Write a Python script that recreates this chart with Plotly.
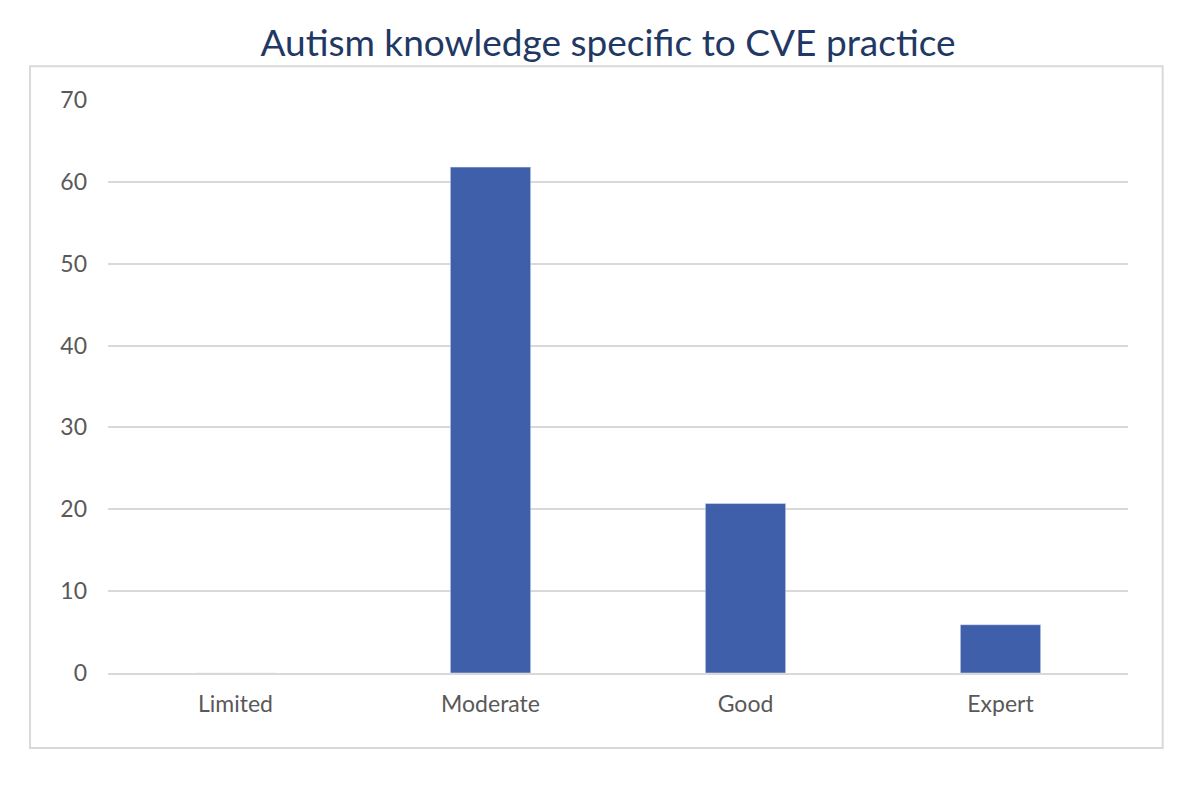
import plotly.graph_objects as go

categories = ['Limited', 'Moderate', 'Good', 'Expert']
values = [0, 61.8, 20.7, 5.9]

fig = go.Figure()
fig.add_trace(go.Bar(x=categories, y=values, marker_color='#3f5fab'))

fig.update_layout(
    width=1200, height=811,
    paper_bgcolor='white', plot_bgcolor='white',
    margin=dict(l=100, r=80, t=92, b=146),
    bargap=0.685,
    showlegend=False,
    title=dict(text='Autism knowledge specific to CVE practice', x=0.5, xanchor='center',
               y=0.957, yanchor='middle',
               font=dict(family='Lato', size=37, color='#1f3864')),
    font=dict(family='Lato', size=23, color='#595959'),
)
fig.update_yaxes(range=[0, 70], dtick=10, showgrid=True, gridcolor='#d9d9d9', gridwidth=1.5,
                 zeroline=False, showline=False, ticklabelstandoff=20)
fig.update_xaxes(showline=True, linecolor='#d9d9d9', linewidth=1.5, ticklabelstandoff=10)
fig.add_shape(type='rect', xref='paper', yref='paper', x0=-0.0765, x1=1.034, y0=-0.131, y1=1.059,
              line=dict(color='#d9d9d9', width=2))

fig.write_html("out.html")
